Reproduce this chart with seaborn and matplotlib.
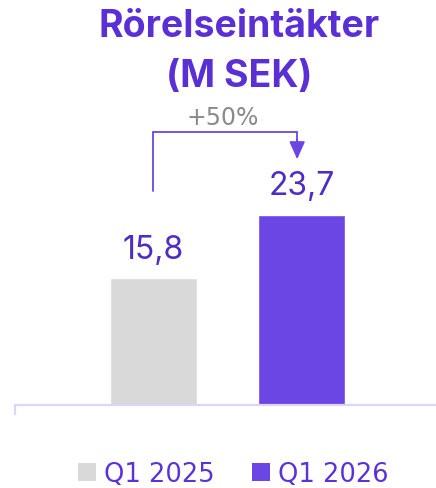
import matplotlib
matplotlib.use("Agg")
import matplotlib.pyplot as plt
import seaborn as sns
import pandas as pd
from matplotlib.patches import Patch

# ---- data ----
categories = ["Q1 2025", "Q1 2026"]
values = [15.8, 23.7]
value_labels = ["15,8", "23,7"]
growth_label = "+50%"
title_lines = ["Rörelseintäkter", "(M SEK)"]

# ---- style ----
sns.set_theme(style="white")
plt.rcParams["font.family"] = ["Inter", "DejaVu Sans"]

bar_colors = ["#d9d9d9", "#6c45e5"]
title_color = "#5a30d6"
label_color = "#4f2cc4"
legend_text_color = "#5a32d8"
axis_color = "#ddd4f8"
growth_color = "#8a8a8a"

W, H, DPI = 436, 489, 100
fig = plt.figure(figsize=(W / DPI, H / DPI), dpi=DPI)

px_per_unit = 8.03
base_px = 406
ax = fig.add_axes([15 / W, (H - base_px) / H, (W - 15) / W, base_px / H])

df = pd.DataFrame({"cat": categories, "val": values})
sns.barplot(data=df, x="cat", y="val", hue="cat", palette=bar_colors,
            width=0.585, legend=False, ax=ax, saturation=1)

spacing = 148.3
ax.set_xlim(-(153.3 - 15) / spacing, 1 + (436 - 301.7) / spacing)
ax.set_ylim(0, base_px / px_per_unit)

for s in ["top", "right", "left"]:
    ax.spines[s].set_visible(False)
ax.spines["bottom"].set_color(axis_color)
ax.spines["bottom"].set_linewidth(1.6)
ax.set_xticks([])
ax.set_yticks([])
ax.set_xlabel("")
ax.set_ylabel("")
# small left tick below axis
ax.plot([0, 0], [0, -10 / base_px], transform=ax.transAxes, color=axis_color,
        lw=1.6, clip_on=False, solid_capstyle="butt")

# value labels
for i, (v, lab) in enumerate(zip(values, value_labels)):
    ax.text(i, v + 2.55, lab, ha="center", va="baseline", fontsize=23,
            color=label_color)

# growth connector
conn_color = "#6c45e5"
y_top = 34.0
x_left = 0.0
x_right = 1 - 4.5 / spacing
ax.plot([x_left, x_left, x_right, x_right], [values[1] + 2.9, y_top, y_top, y_top - 1.2],
        color=conn_color, lw=1.3, solid_joinstyle="miter", clip_on=False)
ax.annotate("", xy=(x_right, y_top - 3.4), xytext=(x_right, y_top - 1.0),
            arrowprops=dict(arrowstyle="-|>,head_length=0.9,head_width=0.4",
                            color=conn_color, lw=1.3, shrinkA=0, shrinkB=0),
            annotation_clip=False)
ax.text((x_left + x_right) / 2 - 0.02, y_top + 1.05, growth_label, ha="center",
        va="baseline", fontsize=17, color=growth_color, family="DejaVu Sans")

# title
fig.text(239.5 / W, 1 - 27 / H, title_lines[0], ha="center", va="center",
         fontsize=27, fontweight="bold", color=title_color)
fig.text(239.5 / W, 1 - 77 / H, title_lines[1], ha="center", va="center",
         fontsize=27, fontweight="bold", color=title_color)

# legend
handles = [Patch(facecolor=c, edgecolor="none") for c in bar_colors]
leg = fig.legend(handles, categories, loc="center", bbox_to_anchor=(233.5 / W, 1 - 475 / H),
                 ncol=2, frameon=False, prop={"family": "DejaVu Sans", "size": 18.5},
                 handlelength=0.7, handleheight=0.72, handletextpad=0.32,
                 columnspacing=1.45, borderpad=0, borderaxespad=0)
for t in leg.get_texts():
    t.set_color(legend_text_color)

fig.savefig("out.png", dpi=DPI)
